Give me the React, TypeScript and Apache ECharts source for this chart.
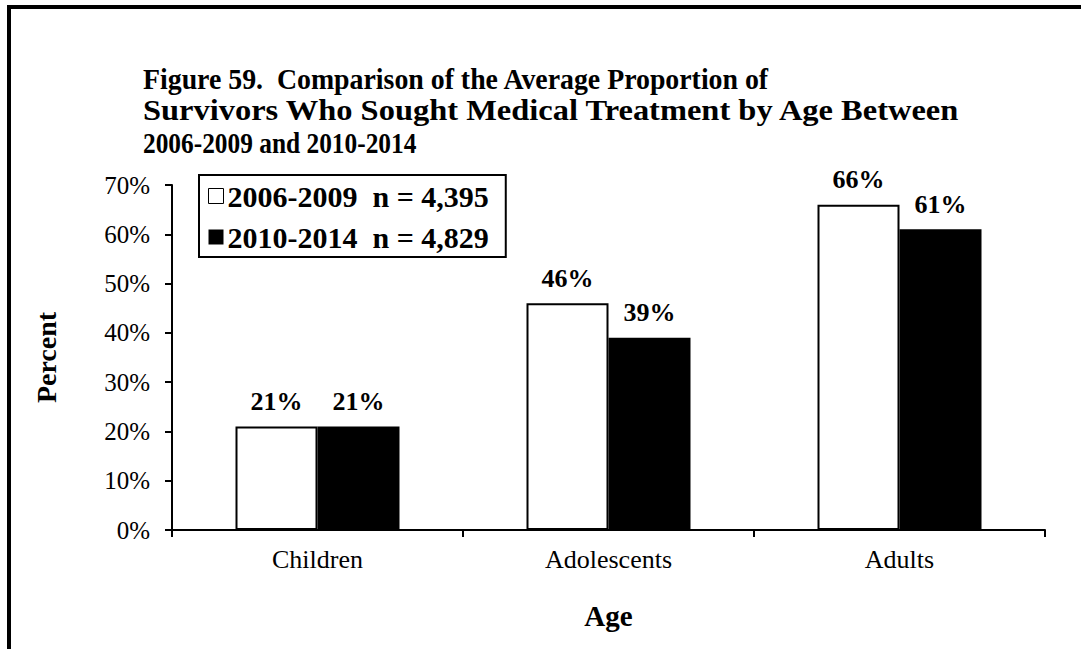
import React, { useEffect, useRef } from "react";
import * as echarts from "echarts";

const categories = ["Children", "Adolescents", "Adults"];
const seriesNames = ["2006-2009", "2010-2014"];
const sampleSizes = ["4,395", "4,829"];
const values2006 = [21, 46, 66];
const values2010 = [21, 39, 61];
const titleLines = [
  "Figure 59.  Comparison of the Average Proportion of",
  "Survivors Who Sought Medical Treatment by Age Between",
  "2006-2009 and 2010-2014",
];

const FONT = "'Liberation Serif', 'Times New Roman', serif";
// horizontal stretch per title line (style only), to match the reference's set widths
const TITLE_SCALE_X = [0.96, 1.12, 0.875];
const TITLE_Y = [79, 111, 143];

export default function App() {
  const ref = useRef<HTMLDivElement>(null);
  useEffect(() => {
    if (!ref.current) return;
    const chart = echarts.init(ref.current, undefined, { renderer: "svg" });
    const titleGraphics = titleLines.map((t, i) => ({
      type: "text",
      x: 143,
      y: TITLE_Y[i],
      scaleX: TITLE_SCALE_X[i],
      silent: true,
      style: {
        text: t,
        fill: "#000",
        fontFamily: FONT,
        fontSize: 29,
        fontWeight: "bold",
        textAlign: "left",
        textVerticalAlign: "middle",
      },
    }));
    chart.setOption({
      animation: false,
      backgroundColor: "#fff",
      textStyle: { fontFamily: FONT, color: "#000" },
      legend: {
        orient: "vertical",
        left: 199,
        top: 175,
        padding: [6, 17, 5, 9],
        itemGap: 11,
        itemWidth: 15,
        itemHeight: 15,
        borderColor: "#000",
        borderWidth: 2,
        icon: "rect",
        data: [
          { name: seriesNames[0], itemStyle: { color: "#fff", borderColor: "#000", borderWidth: 1 } },
          { name: seriesNames[1], itemStyle: { color: "#000", borderWidth: 0 } },
        ],
        formatter: (name: string) => {
          const i = seriesNames.indexOf(name);
          return name + "  n = " + sampleSizes[i];
        },
        textStyle: { fontFamily: FONT, fontSize: 30, fontWeight: "bold", lineHeight: 30, color: "#000", padding: [0, 0, 0, -1] },
      },
      grid: { left: 172, right: 36, top: 185, bottom: 119, containLabel: false },
      xAxis: {
        type: "category",
        data: categories,
        name: "Age",
        nameLocation: "middle",
        nameGap: 71,
        nameTextStyle: { fontFamily: FONT, fontSize: 29, fontWeight: "bold", color: "#000" },
        axisLine: { lineStyle: { color: "#000", width: 2 } },
        axisTick: { show: true, length: 7, lineStyle: { color: "#000", width: 2 } },
        axisLabel: { fontFamily: FONT, fontSize: 26, color: "#000", margin: 16 },
      },
      yAxis: {
        type: "value",
        min: 0,
        max: 70,
        interval: 10,
        name: "Percent",
        nameLocation: "middle",
        nameGap: 112,
        nameRotate: 90,
        nameTextStyle: { fontFamily: FONT, fontSize: 28, fontWeight: "bold", color: "#000" },
        axisLine: { show: true, lineStyle: { color: "#000", width: 2 } },
        axisTick: { show: true, length: 7, lineStyle: { color: "#000", width: 2 } },
        splitLine: { show: false },
        axisLabel: { fontFamily: FONT, fontSize: 25, color: "#000", margin: 22, formatter: "{value}%" },
      },
      series: [
        {
          name: seriesNames[0],
          type: "bar",
          data: values2006,
          barWidth: 82,
          barGap: "0%",
          itemStyle: { color: "#fff", borderColor: "#000", borderWidth: 2 },
          label: { show: true, position: "top", distance: 12, formatter: "{c}%", fontFamily: FONT, fontSize: 26, fontWeight: "bold", color: "#000" },
        },
        {
          name: seriesNames[1],
          type: "bar",
          data: values2010,
          barWidth: 82,
          barGap: "0%",
          itemStyle: { color: "#000", borderColor: "#000", borderWidth: 2 },
          label: { show: true, position: "top", distance: 12, formatter: "{c}%", fontFamily: FONT, fontSize: 26, fontWeight: "bold", color: "#000" },
        },
      ],
      graphic: [
        {
          type: "rect",
          shape: { x: 9, y: 7, width: 1300, height: 1000 },
          style: { fill: "none", stroke: "#000", lineWidth: 4 },
          silent: true,
        },
        ...titleGraphics,
      ],
    });
    return () => chart.dispose();
  }, []);
  return <div ref={ref} style={{ position: "absolute", left: 0, top: 0, width: 1081, height: 649 }} />;
}
